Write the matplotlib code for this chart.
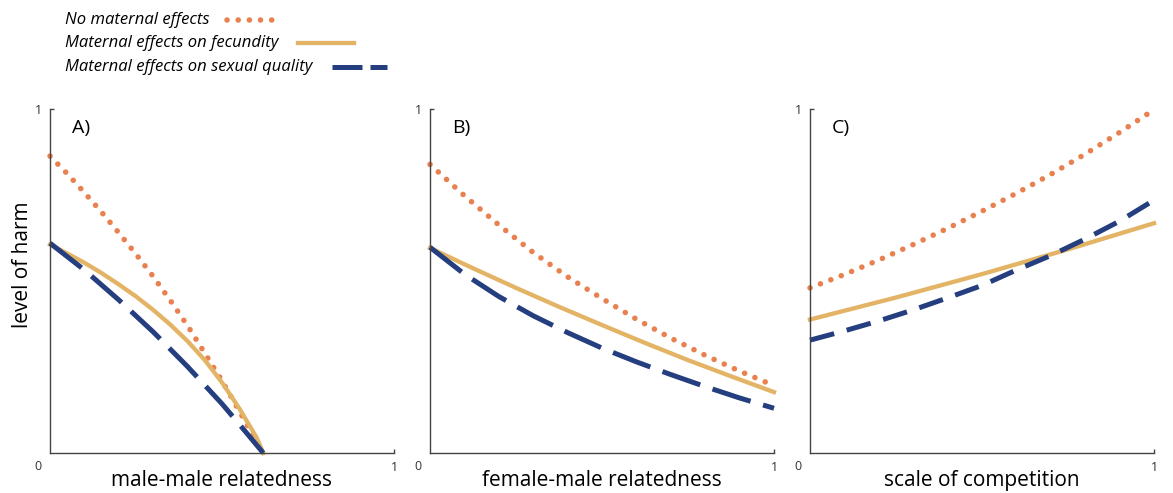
import matplotlib
matplotlib.use("Agg")
import matplotlib.pyplot as plt
from matplotlib.lines import Line2D

plt.rcParams["font.family"] = ["Open Sans", "DejaVu Sans"]

# values (x in [0, 1], level of harm in [0, 1])
a_none_x = [0, 0.05, 0.1, 0.15, 0.2, 0.25, 0.3, 0.35, 0.4, 0.45, 0.5, 0.55, 0.6, 0.62]
a_none_y = [0.863, 0.812, 0.757, 0.70, 0.64, 0.578, 0.513, 0.443, 0.37, 0.29, 0.21,
            0.122, 0.035, 0.0]
a_fec_x = [0, 0.05, 0.1, 0.15, 0.2, 0.25, 0.3, 0.35, 0.4, 0.45, 0.5, 0.55, 0.6, 0.62]
a_fec_y = [0.606, 0.58, 0.553, 0.523, 0.49, 0.455, 0.416, 0.373, 0.325, 0.27, 0.205,
           0.13, 0.046, 0.0]
a_sex_x = [0, 0.1, 0.2, 0.3, 0.4, 0.5, 0.56, 0.62]
a_sex_y = [0.61, 0.532, 0.445, 0.352, 0.251, 0.143, 0.072, 0.0]

b_none_x = [0, 0.1, 0.2, 0.3, 0.4, 0.5, 0.6, 0.7, 0.8, 0.9, 1.0]
b_none_y = [0.839, 0.748, 0.663, 0.583, 0.512, 0.449, 0.389, 0.334, 0.284, 0.238, 0.196]
b_fec_x = [0, 0.125, 0.25, 0.375, 0.5, 0.625, 0.75, 0.875, 1.0]
b_fec_y = [0.596, 0.537, 0.48, 0.425, 0.372, 0.32, 0.27, 0.223, 0.177]
b_sex_x = [0, 0.1, 0.2, 0.3, 0.4, 0.5, 0.6, 0.7, 0.8, 0.9, 1.0]
b_sex_y = [0.598, 0.52, 0.455, 0.399, 0.35, 0.305, 0.265, 0.228, 0.193, 0.16, 0.13]

c_none_x = [0, 0.1, 0.2, 0.3, 0.4, 0.5, 0.6, 0.7, 0.8, 0.9, 1.0]
c_none_y = [0.48, 0.519, 0.561, 0.606, 0.653, 0.703, 0.755, 0.81, 0.869, 0.932, 0.998]
c_fec_x = [0, 0.25, 0.5, 0.75, 1.0]
c_fec_y = [0.388, 0.452, 0.52, 0.592, 0.668]
c_sex_x = [0, 0.1, 0.2, 0.3, 0.4, 0.5, 0.6, 0.7, 0.8, 0.9, 1.0]
c_sex_y = [0.328, 0.355, 0.384, 0.416, 0.451, 0.487, 0.532, 0.574, 0.622, 0.674, 0.735]

panel_labels = ["A)", "B)", "C)"]
xlabels = ["male-male relatedness", "female-male relatedness", "scale of competition"]
legend_labels = ["No maternal effects", "Maternal effects on fecundity",
                 "Maternal effects on sexual quality"]

ORANGE = "#E8804F"
GOLD = "#E3B465"
NAVY = "#253E7F"
DOTTED = dict(color=ORANGE, lw=4.0, ls=(0, (0.01, 2.0)), dash_capstyle="round")
SOLID = dict(color=GOLD, lw=3.1, ls="-")
DASH_LONG = dict(color=NAVY, lw=3.6, ls=(0, (8, 2.6)))
DASH_SHORT = dict(color=NAVY, lw=3.6, ls=(0, (5, 2.6)))
DASH_LEG = dict(color=NAVY, lw=3.6, ls=(0, (6, 1.6)))

W, H = 1173, 493
fig = plt.figure(figsize=(W / 100, H / 100), dpi=100)

lefts = [50, 430, 810]
panel_w = 344
series = [
    [(a_none_x, a_none_y), (a_fec_x, a_fec_y), (a_sex_x, a_sex_y)],
    [(b_none_x, b_none_y), (b_fec_x, b_fec_y), (b_sex_x, b_sex_y)],
    [(c_none_x, c_none_y), (c_fec_x, c_fec_y), (c_sex_x, c_sex_y)],
]
dash_styles = [DASH_LONG, DASH_LONG, DASH_SHORT]

for i, left in enumerate(lefts):
    ax = fig.add_axes([left / W, 40 / H, panel_w / W, 344 / H])
    styles = [DOTTED, SOLID, dash_styles[i]]
    for (xs, ys), st in zip(series[i], styles):
        ax.plot(xs, ys, clip_on=False, **st)
    ax.set_xlim(0, 1)
    ax.set_ylim(0, 1)
    for s in ["top", "right"]:
        ax.spines[s].set_visible(False)
    for s in ["left", "bottom"]:
        ax.spines[s].set_color("#444444")
        ax.spines[s].set_linewidth(1.0)
    ax.set_xticks([1])
    ax.set_yticks([1])
    ax.tick_params(direction="in", length=3, width=1, color="#444444",
                   labelsize=9, labelcolor="#333333", pad=6)
    ax.text(-0.035, -0.038, "0", transform=ax.transAxes, ha="center",
            va="center", fontsize=9, color="#333333")
    ax.text(0.063, 0.945, panel_labels[i], transform=ax.transAxes,
            ha="left", va="center", fontsize=14)
    ax.set_xlabel(xlabels[i], fontsize=15, labelpad=-3)
    if i == 0:
        ax.set_ylabel("level of harm", fontsize=15)
        ax.yaxis.set_label_coords(-0.048, 0.547)

# legend drawn as text with the line sample after it
leg_rows = [(20, 227, 282), (43, 298, 354), (67, 332, 387)]
for label, (yy, x0, x1), st in zip(legend_labels, leg_rows, [DOTTED, SOLID, DASH_LEG]):
    fig.text(65 / W, 1 - yy / H, label, ha="left", va="center",
             fontsize=12, style="italic")
    fig.add_artist(Line2D([x0 / W, x1 / W], [1 - yy / H, 1 - yy / H],
                          transform=fig.transFigure, **st))

fig.savefig("out.png", dpi=100)
